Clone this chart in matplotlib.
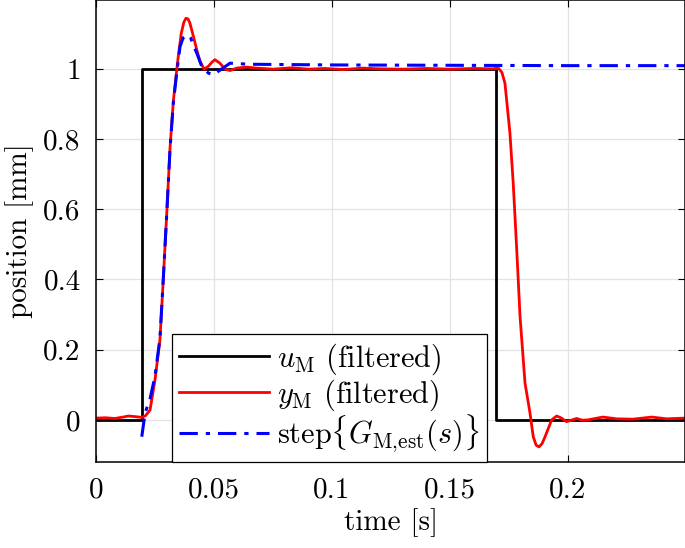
import numpy as np
import matplotlib
matplotlib.use("Agg")
import matplotlib.pyplot as plt

plt.rcParams['font.family'] = ['cmr10', 'DejaVu Serif']
plt.rcParams['mathtext.fontset'] = 'cm'
plt.rcParams['axes.unicode_minus'] = False
plt.rcParams['axes.formatter.use_mathtext'] = True

# input u_M (filtered)
u_t = [0.0, 0.0194, 0.0194, 0.1694, 0.1694, 0.2496]
u_y = [0.0, 0.0, 1.0, 1.0, 0.0, 0.0]

# output y_M (filtered)
y_t = [0.0, 0.004, 0.008, 0.0115, 0.0137, 0.017, 0.0194, 0.021, 0.0229, 0.025,
       0.0271, 0.0285, 0.030, 0.0314, 0.0328, 0.0347, 0.0361, 0.0372, 0.0381,
       0.0390, 0.0398, 0.0413, 0.0427, 0.0441, 0.0458, 0.0476, 0.0490, 0.0504,
       0.0525, 0.0547, 0.0568, 0.0596, 0.0638, 0.068, 0.075, 0.083, 0.090,
       0.097, 0.105, 0.113, 0.120, 0.130, 0.140, 0.150, 0.160, 0.168, 0.1705,
       0.1720, 0.1733, 0.1754, 0.1768, 0.1783, 0.1797, 0.1818, 0.1839, 0.1853,
       0.1865, 0.1877, 0.1890, 0.1903, 0.1931, 0.1952, 0.197, 0.1994, 0.2037,
       0.206, 0.2085, 0.2148, 0.2206, 0.2275, 0.2355, 0.2418, 0.2496]
y_y = [0.005, 0.006, 0.004, 0.008, 0.011, 0.009, 0.007, 0.012, 0.028, 0.114,
       0.228, 0.399, 0.590, 0.778, 0.910, 1.026, 1.100, 1.132, 1.144,
       1.142, 1.130, 1.092, 1.054, 1.021, 0.999, 1.007, 1.018, 1.026,
       1.016, 0.999, 0.995, 1.002, 1.005, 1.002, 0.999, 1.003, 0.999,
       1.001, 0.998, 1.002, 1.000, 0.999, 1.001, 0.999, 1.001, 1.000, 1.002,
       0.990, 0.959, 0.818, 0.675, 0.484, 0.294, 0.105, 0.020, -0.048,
       -0.072, -0.077, -0.068, -0.048, 0.000, 0.011, 0.006, -0.005, 0.004,
       -0.001, 0.000, 0.008, 0.003, 0.002, 0.008, 0.003, 0.005]

# step response of estimated model
g_t = [0.0194, 0.0208, 0.0229, 0.025, 0.0271, 0.0285, 0.030, 0.0314, 0.0328,
       0.0342, 0.0356, 0.0369, 0.0387, 0.0401, 0.0416, 0.0427, 0.0448, 0.0476,
       0.0497, 0.0568, 0.065, 0.100, 0.150, 0.200, 0.2496]
g_y = [-0.048, 0.020, 0.060, 0.125, 0.232, 0.400, 0.590, 0.775, 0.905,
       0.988, 1.063, 1.088, 1.097, 1.088, 1.062, 1.045, 1.007, 0.988,
       0.983, 1.016, 1.013, 1.011, 1.010, 1.009, 1.009]

xticks = [0, 0.05, 0.1, 0.15, 0.2]
xtick_labels = ['0', '0.05', '0.1', '0.15', '0.2']
yticks = [0, 0.2, 0.4, 0.6, 0.8, 1]
ytick_labels = ['0', '0.2', '0.4', '0.6', '0.8', '1']

fs = 21

fig = plt.figure(figsize=(6.85, 5.48), dpi=100)
ax = fig.add_axes([96 / 685, 86 / 548, 589 / 685, 462 / 548])

ax.plot(u_t, u_y, color='black', lw=2, label=r'$u_\mathrm{M}$ (filtered)')
ax.plot(y_t, y_y, color='red', lw=2, label=r'$y_\mathrm{M}$ (filtered)')
ax.plot(g_t, g_y, color='blue', lw=2.2, dashes=(6, 2.6, 1.4, 2.6),
        label=r'step$\{G_{\mathrm{M}{,}\mathrm{est}}(s)\}$')

ax.set_xlim(0, 0.2496)
ax.set_ylim(-0.12, 1.196)
ax.set_xticks(xticks, xtick_labels)
ax.set_yticks(yticks, ytick_labels)
ax.tick_params(direction='in', length=5, width=0.8, top=True, right=True,
               labelsize=fs, pad=11)
ax.grid(True, color='#e3e3e3', lw=0.9)
ax.set_axisbelow(True)
for s in ax.spines.values():
    s.set_linewidth(1.1)

ax.set_xlabel('time [s]', fontsize=fs, labelpad=3)
ax.set_ylabel('position [mm]', fontsize=fs, labelpad=7)

leg = ax.legend(loc='lower left', bbox_to_anchor=(0.1285, 0.0), borderaxespad=0,
                fontsize=21.8, fancybox=False, framealpha=1, edgecolor='black',
                handlelength=2.95, handletextpad=0.27, labelspacing=0.0,
                borderpad=0.25)
leg.get_frame().set_linewidth(0.9)

fig.savefig('out.png', dpi=100)
